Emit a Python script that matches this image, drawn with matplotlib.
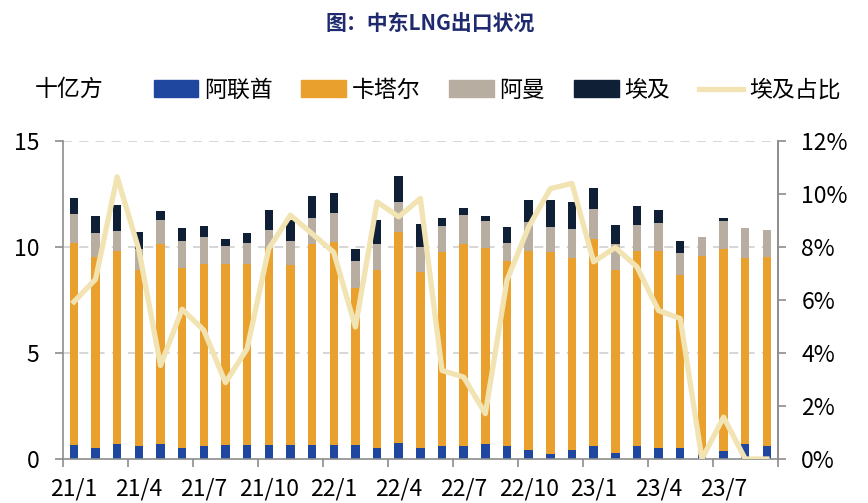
import numpy as np
import matplotlib
matplotlib.use("Agg")
import matplotlib.pyplot as plt
from matplotlib.patches import Patch
from matplotlib.lines import Line2D

plt.rcParams['font.family'] = ['Noto Sans CJK SC', 'DejaVu Sans']

# 月份 21/1 - 23/9
months = ['21/1', '21/2', '21/3', '21/4', '21/5', '21/6', '21/7', '21/8', '21/9',
          '21/10', '21/11', '21/12', '22/1', '22/2', '22/3', '22/4', '22/5', '22/6',
          '22/7', '22/8', '22/9', '22/10', '22/11', '22/12', '23/1', '23/2', '23/3',
          '23/4', '23/5', '23/6', '23/7', '23/8', '23/9']

# 十亿方
uae = [0.66, 0.54, 0.71, 0.59, 0.72, 0.54, 0.59, 0.65, 0.65, 0.65, 0.65, 0.65,
       0.65, 0.65, 0.54, 0.76, 0.54, 0.59, 0.59, 0.72, 0.59, 0.43, 0.23, 0.43,
       0.59, 0.27, 0.59, 0.54, 0.54, 0.20, 0.39, 0.72, 0.59]
qatar = [9.51, 8.98, 9.12, 8.31, 9.40, 8.48, 8.61, 8.55, 8.55, 9.30, 8.52, 9.50,
         9.58, 7.42, 8.38, 9.94, 8.27, 9.16, 9.56, 9.24, 8.77, 9.40, 9.52, 9.06,
         9.80, 8.65, 9.21, 9.26, 8.16, 9.37, 9.53, 8.77, 8.96]
oman = [1.39, 1.12, 0.92, 1.00, 1.16, 1.25, 1.28, 0.84, 1.00, 0.85, 1.13, 1.23,
        1.37, 1.29, 1.23, 1.43, 1.19, 1.23, 1.34, 1.26, 0.84, 1.37, 1.20, 1.37,
        1.41, 1.23, 1.26, 1.32, 1.03, 0.91, 1.30, 1.41, 1.25]
egypt = [0.74, 0.80, 1.25, 0.80, 0.42, 0.63, 0.52, 0.35, 0.44, 0.95, 0.95, 1.02,
         0.96, 0.54, 1.13, 1.21, 1.10, 0.40, 0.37, 0.22, 0.75, 1.03, 1.28, 1.27,
         0.96, 0.91, 0.85, 0.63, 0.54, 0.00, 0.16, 0.00, 0.00]
# 埃及占比 %
egypt_share = [5.93, 6.78, 10.65, 7.9, 3.53, 5.65, 4.86, 2.88, 4.16, 7.94, 9.2, 8.5,
               7.8, 4.98, 9.7, 9.14, 9.83, 3.34, 3.09, 1.71, 6.75, 8.76, 10.2, 10.4,
               7.44, 7.98, 7.25, 5.6, 5.3, 0.0, 1.58, 0.0, 0.0]

c_uae = '#1F47A0'
c_qatar = '#E9A02C'
c_oman = '#B8ADA1'
c_egypt = '#0E1F36'
c_line = '#F2E3B3'
axis_gray = '#8C8C8C'

fig = plt.figure(figsize=(8.68, 5.03), dpi=100)
ax = fig.add_axes([0.0726, 0.0875, 0.8234, 0.6322])

x = np.arange(len(months))
w = 0.39
b1 = np.array(uae)
b2 = b1 + np.array(qatar)
b3 = b2 + np.array(oman)
ax.bar(x, uae, w, color=c_uae, zorder=2)
ax.bar(x, qatar, w, bottom=b1, color=c_qatar, zorder=2)
ax.bar(x, oman, w, bottom=b2, color=c_oman, zorder=2)
ax.bar(x, egypt, w, bottom=b3, color=c_egypt, zorder=2)

ax.set_xlim(-0.5, len(months) - 0.5)
ax.set_ylim(0, 15)
ax.set_yticks([0, 5, 10, 15])
for v in [5, 10, 15]:
    ax.axhline(v, color='#D3D3D3', ls=(0, (5, 4)), lw=1.3, zorder=1)

# 刻度在分组边界，标签在组内第一个月
ax.set_xticks(np.arange(-0.5, len(months), 3))
ax.set_xticklabels([])
ax.set_xticks(x[::3], minor=True)
ax.set_xticklabels([months[i] for i in x[::3]], minor=True)
ax.tick_params(axis='x', which='major', length=6, width=1.2, color=axis_gray)
ax.tick_params(axis='x', which='minor', length=0, pad=13, labelsize=16.5)
ax.tick_params(axis='y', length=6, width=1.2, color=axis_gray, labelsize=16.5, pad=11)

ax.spines['top'].set_visible(False)
for s in ['left', 'right', 'bottom']:
    ax.spines[s].set_color(axis_gray)
    ax.spines[s].set_linewidth(1.2)

ax2 = ax.twinx()
ax2.plot(x, egypt_share, color=c_line, lw=3.8, zorder=3)
ax2.set_ylim(0, 12)
ax2.set_yticks(range(0, 13, 2))
ax2.set_yticklabels([f'{v}%' for v in range(0, 13, 2)])
ax2.tick_params(axis='y', length=6, width=1.2, color=axis_gray, labelsize=16.5, pad=11)
for s in ['top', 'left', 'bottom']:
    ax2.spines[s].set_visible(False)
ax2.spines['right'].set_color(axis_gray)
ax2.spines['right'].set_linewidth(1.2)

fig.text(0.496, 0.952, '图：中东LNG出口状况', ha='center', va='center',
         fontsize=15, fontweight='bold', color='#1F2A6E')
fig.text(0.04, 0.823, '十亿方', ha='left', va='center', fontsize=16.5)

handles = [Patch(color=c_uae), Patch(color=c_qatar), Patch(color=c_oman),
           Patch(color=c_egypt), Line2D([], [], color=c_line, lw=3.8)]
labels = ['阿联酋', '卡塔尔', '阿曼', '埃及', '埃及占比']
fig.legend(handles, labels, loc='center left', bbox_to_anchor=(0.177, 0.821),
           ncol=5, frameon=False, fontsize=16.5, handlelength=1.95, handleheight=0.7,
           handletextpad=0.25, columnspacing=1.25, borderaxespad=0, borderpad=0)

fig.savefig('out.png', dpi=100)
